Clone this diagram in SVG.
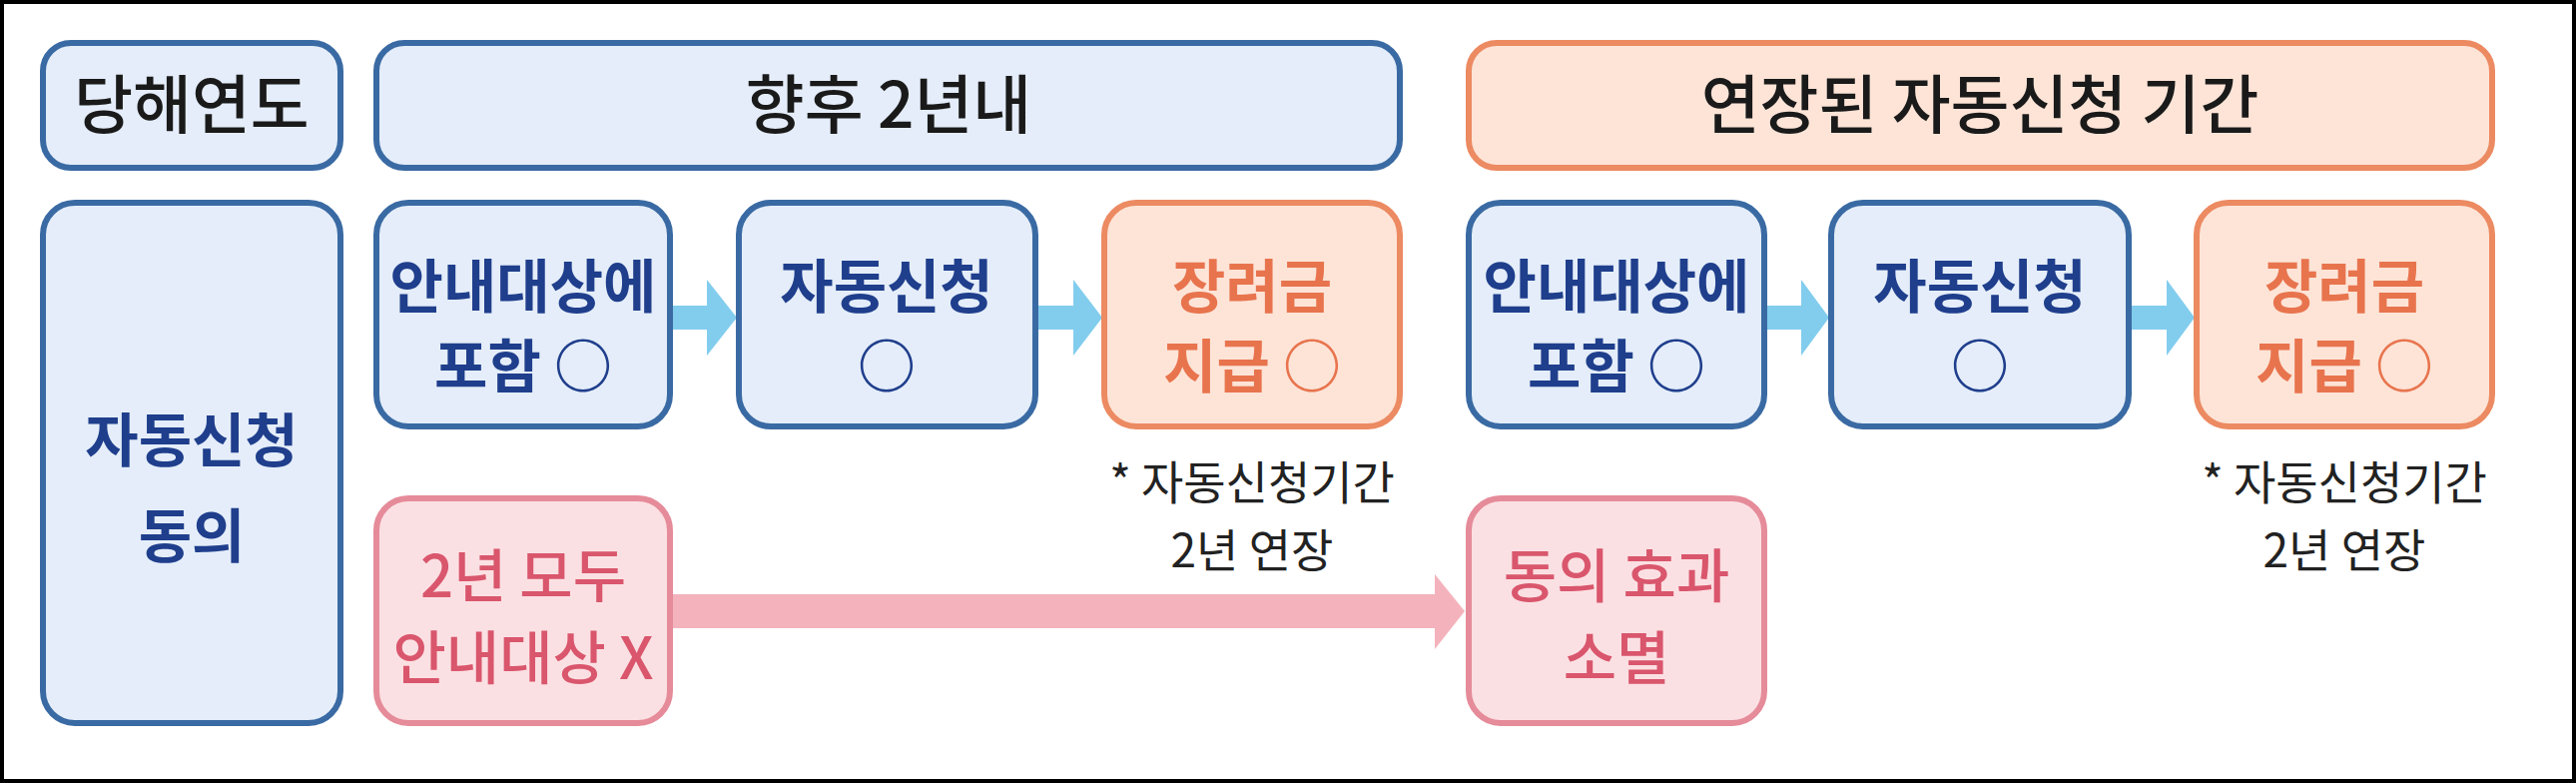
<svg xmlns="http://www.w3.org/2000/svg" width="2580" height="784" viewBox="0 0 2580 784">
<style>
text{font-family:"Noto Sans CJK KR","Noto Sans",sans-serif;text-anchor:middle}
.b{fill:#e4edf9;stroke:#3a6aa3;stroke-width:6}
.o{fill:#fde4d7;stroke:#ec8a62;stroke-width:6}
.p{fill:#fbe0e3;stroke:#e58b99;stroke-width:6}
.h{font-size:64px;fill:#1a1a1a;font-weight:500}
.bt{font-size:58px;fill:#1f3e8c;font-weight:700}
.ot{font-size:58px;fill:#e8744e;font-weight:700}
.pt{font-size:58px;fill:#d9566c;font-weight:500}
.n{font-size:46px;fill:#222}
</style>
<rect x="2" y="2" width="2576" height="780" fill="#fff" stroke="#000" stroke-width="4"/>
<g id="connectors">
<path d="M671 306H708V280L738 318L708 356V330H671Z" fill="#82cdee"/>
<path d="M1038 306H1075V280L1104 318L1075 356V330H1038Z" fill="#82cdee"/>
<path d="M1768 306H1804V280L1832 318L1804 356V330H1768Z" fill="#82cdee"/>
<path d="M2133 306H2170V280L2198 318L2170 356V330H2133Z" fill="#82cdee"/>
<path d="M671 595H1437V575L1467 612L1437 650V629H671Z" fill="#f4b3bc"/>
</g>
<g id="h1"><rect class="b" x="43" y="43" width="298" height="125" rx="28"/><text class="h" x="192" y="128">당해연도</text></g>
<g id="h2"><rect class="b" x="377" y="43" width="1025" height="125" rx="28"/><text class="h" x="890" y="128">향후 2년내</text></g>
<g id="h3"><rect class="o" x="1471" y="43" width="1025" height="125" rx="28"/><text class="h" x="1983" y="128">연장된 자동신청 기간</text></g>
<g id="consent"><rect class="b" x="43" y="203" width="298" height="521" rx="32"/><text class="bt" x="192" y="462">자동신청</text><text class="bt" x="192" y="558">동의</text></g>
<g id="a1"><rect class="b" x="377" y="203" width="294" height="224" rx="32"/><text class="bt" x="524" y="308">안내대상에</text><text class="bt" x="524" y="388">포함 ○</text></g>
<g id="a2"><rect class="b" x="740" y="203" width="297" height="224" rx="32"/><text class="bt" x="888" y="308">자동신청</text><text class="bt" x="888" y="388">○</text></g>
<g id="a3"><rect class="o" x="1106" y="203" width="296" height="224" rx="32"/><text class="ot" x="1254" y="308">장려금</text><text class="ot" x="1254" y="388">지급 ○</text></g>
<g id="b1"><rect class="b" x="1471" y="203" width="296" height="224" rx="32"/><text class="bt" x="1619" y="308">안내대상에</text><text class="bt" x="1619" y="388">포함 ○</text></g>
<g id="b2"><rect class="b" x="1834" y="203" width="298" height="224" rx="32"/><text class="bt" x="1983" y="308">자동신청</text><text class="bt" x="1983" y="388">○</text></g>
<g id="b3"><rect class="o" x="2200" y="203" width="296" height="224" rx="32"/><text class="ot" x="2348" y="308">장려금</text><text class="ot" x="2348" y="388">지급 ○</text></g>
<g id="note1"><text class="n" x="1254" y="500">* 자동신청기간</text><text class="n" x="1254" y="568">2년 연장</text></g>
<g id="note2"><text class="n" x="2348" y="500">* 자동신청기간</text><text class="n" x="2348" y="568">2년 연장</text></g>
<g id="c1"><rect class="p" x="377" y="499" width="294" height="225" rx="32"/><text class="pt" x="524" y="598">2년 모두</text><text class="pt" x="524" y="680">안내대상 X</text></g>
<g id="c2"><rect class="p" x="1471" y="499" width="296" height="225" rx="32"/><text class="pt" x="1619" y="598">동의 효과</text><text class="pt" x="1619" y="680">소멸</text></g>
</svg>
